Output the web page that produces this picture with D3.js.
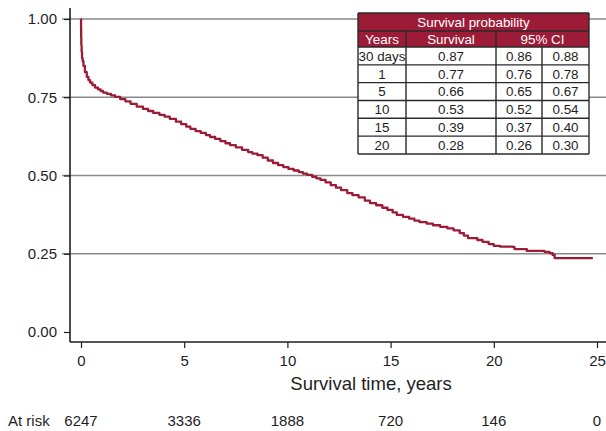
<!DOCTYPE html>
<html>
<head>
<meta charset="utf-8">
<script src="https://cdn.jsdelivr.net/npm/d3@7"></script>
<style>
  html, body { margin: 0; padding: 0; background: #fff; }
  svg { display: block; font-family: "Liberation Sans", Arial, Helvetica, sans-serif; }
</style>
</head>
<body>
<svg id="chart" width="606" height="431"></svg>
<script>
// Kaplan-Meier estimate: event times (years) and survival probability
const kmTime = [0, 0.003, 0.008, 0.015, 0.03, 0.05, 0.08, 0.12, 0.19, 0.28, 0.36, 0.44, 0.55, 0.68, 0.82, 0.95,
  1.07, 1.25, 1.45, 1.65, 1.9, 2.15, 2.4, 2.7, 3.0, 3.25, 3.5, 3.8, 4.05, 4.3, 4.6, 4.85, 5.1, 5.3, 5.55, 5.8,
  6.05, 6.25, 6.5, 6.75, 7.0, 7.22, 7.5, 7.8, 8.1, 8.3, 8.55, 8.8, 9.05, 9.3, 9.55, 9.8, 10.05, 10.3, 10.55,
  10.75, 10.95, 11.2, 11.4, 11.6, 11.85, 12.1, 12.35, 12.6, 12.9, 13.15, 13.45, 13.75, 14.0, 14.3, 14.6, 14.85,
  15.1, 15.3, 15.6, 15.9, 16.15, 16.4, 16.75, 17.05, 17.4, 17.75, 18.05, 18.35, 18.55, 18.75, 19.2, 19.45,
  19.75, 20.0, 20.3, 20.9, 21.0, 21.6, 22.45, 22.7, 22.85, 22.95, 24.8];
const kmSurv = [1.000, 0.970, 0.940, 0.915, 0.895, 0.875, 0.865, 0.850, 0.830, 0.815, 0.805, 0.797, 0.789, 0.781,
  0.775, 0.770, 0.765, 0.761, 0.756, 0.751, 0.744, 0.737, 0.729, 0.720, 0.713, 0.706, 0.700, 0.694, 0.688, 0.681,
  0.672, 0.664, 0.656, 0.649, 0.642, 0.636, 0.629, 0.623, 0.617, 0.610, 0.603, 0.597, 0.590, 0.582, 0.575, 0.570,
  0.565, 0.557, 0.548, 0.540, 0.533, 0.527, 0.521, 0.516, 0.511, 0.506, 0.502, 0.496, 0.491, 0.486, 0.478, 0.469,
  0.461, 0.453, 0.444, 0.437, 0.430, 0.420, 0.412, 0.405, 0.397, 0.390, 0.382, 0.374, 0.368, 0.362, 0.356, 0.351,
  0.346, 0.341, 0.336, 0.331, 0.325, 0.316, 0.308, 0.300, 0.294, 0.288, 0.281, 0.275, 0.273, 0.272, 0.265, 0.259,
  0.256, 0.252, 0.246, 0.236, 0.236];

// Axis ticks and the number-at-risk row
const xTicks = [0, 5, 10, 15, 20, 25];
const yTicks = [0, 0.25, 0.5, 0.75, 1];
const gridValues = [0.25, 0.5, 0.75, 1];
const atRisk = [6247, 3336, 1888, 720, 146, 0];

// Inset table of survival probabilities
const tableYears = ["30 days", "1", "5", "10", "15", "20"];
const tableSurvival = [0.87, 0.77, 0.66, 0.53, 0.39, 0.28];
const tableLower = [0.86, 0.76, 0.65, 0.52, 0.37, 0.26];
const tableUpper = [0.88, 0.78, 0.67, 0.54, 0.40, 0.30];

const RED = "#9c1c37";
const INK = "#1e1e1e";
const GRID = "#8a8a8a";
const FONT = 15;

const svg = d3.select("#chart");
const W = 606;

const x = d3.scaleLinear().domain([0, 25]).range([81, 597]);
const y = d3.scaleLinear().domain([0, 1]).range([332, 19]);

const axisX = 70;      // position of the vertical axis
const axisY = 342;     // position of the horizontal axis

// Horizontal gridlines
svg.append("g").selectAll("line").data(gridValues).join("line")
  .attr("x1", axisX - 8).attr("x2", W)
  .attr("y1", d => y(d)).attr("y2", d => y(d))
  .attr("stroke", GRID).attr("stroke-width", 1.3);

// Y axis
const gy = svg.append("g").attr("transform", `translate(${axisX},0)`)
  .call(d3.axisLeft(y).tickValues(yTicks).tickFormat(d3.format(".2f")).tickSize(6).tickPadding(7));
gy.select(".domain").remove();
gy.selectAll(".tick line").attr("stroke", INK).attr("stroke-width", 1.2);
gy.selectAll(".tick text").attr("font-size", FONT).attr("font-family", null).attr("fill", INK);

// X axis
const gx = svg.append("g").attr("transform", `translate(0,${axisY})`)
  .call(d3.axisBottom(x).tickValues(xTicks).tickFormat(d3.format("d")).tickSize(6).tickPadding(7));
gx.select(".domain").remove();
gx.selectAll(".tick line").attr("stroke", INK).attr("stroke-width", 1.2);
gx.selectAll(".tick text").attr("font-size", FONT).attr("font-family", null).attr("fill", INK);

// Axis lines
svg.append("line").attr("x1", axisX).attr("x2", axisX).attr("y1", y(1) - 11).attr("y2", axisY)
  .attr("stroke", INK).attr("stroke-width", 1.6);
svg.append("line").attr("x1", axisX).attr("x2", W).attr("y1", axisY).attr("y2", axisY)
  .attr("stroke", INK).attr("stroke-width", 1.6);

// Survival curve
const km = kmTime.map((t, i) => ({ t, s: kmSurv[i] }));
svg.append("path").datum(km)
  .attr("fill", "none").attr("stroke", RED).attr("stroke-width", 2.3)
  .attr("stroke-linejoin", "round")
  .attr("d", d3.line().x(d => x(d.t)).y(d => y(d.s)).curve(d3.curveStepAfter));

// Axis title
svg.append("text").attr("x", 371).attr("y", 390).attr("text-anchor", "middle")
  .attr("font-size", 18.5).attr("fill", INK).text("Survival time, years");

// Number at risk
svg.append("text").attr("x", 8).attr("y", 426).attr("font-size", FONT).attr("fill", INK).text("At risk");
svg.append("g").selectAll("text").data(atRisk).join("text")
  .attr("x", (d, i) => x(xTicks[i])).attr("y", 426).attr("text-anchor", "middle")
  .attr("font-size", FONT).attr("fill", INK).text(d => d);

// Inset table
const colEdges = [358, 406, 496, 542, 589];
const tblTop = 13, h1 = 18, h2 = 16, rowH = 17.83;
const bodyTop = tblTop + h1 + h2;
const tableBottom = bodyTop + rowH * tableYears.length;
const tbl = svg.append("g").attr("font-size", 13.4);
const fmt = d3.format(".2f");

// header fill
tbl.append("rect").attr("x", colEdges[0]).attr("y", tblTop)
  .attr("width", colEdges[4] - colEdges[0]).attr("height", h1 + h2).attr("fill", RED);
tbl.append("rect").attr("x", colEdges[0]).attr("y", bodyTop)
  .attr("width", colEdges[4] - colEdges[0]).attr("height", tableBottom - bodyTop).attr("fill", "#fff");

const cx = i => (colEdges[i] + colEdges[i + 1]) / 2;
const hdr = [
  { x: (colEdges[0] + colEdges[4]) / 2, y: tblTop + h1 / 2, t: "Survival probability" },
  { x: cx(0), y: tblTop + h1 + h2 / 2, t: "Years" },
  { x: cx(1), y: tblTop + h1 + h2 / 2, t: "Survival" },
  { x: (colEdges[2] + colEdges[4]) / 2, y: tblTop + h1 + h2 / 2, t: "95% CI" }
];
tbl.append("g").selectAll("text").data(hdr).join("text")
  .attr("x", d => d.x).attr("y", d => d.y).attr("dy", "0.36em")
  .attr("text-anchor", "middle").attr("fill", "#fff").text(d => d.t);

const cells = [];
tableYears.forEach((yr, r) => {
  const cy = bodyTop + rowH * r + rowH / 2;
  cells.push({ x: cx(0), y: cy, t: yr });
  cells.push({ x: cx(1), y: cy, t: fmt(tableSurvival[r]) });
  cells.push({ x: cx(2), y: cy, t: fmt(tableLower[r]) });
  cells.push({ x: cx(3), y: cy, t: fmt(tableUpper[r]) });
});
tbl.append("g").selectAll("text").data(cells).join("text")
  .attr("x", d => d.x).attr("y", d => d.y).attr("dy", "0.36em")
  .attr("text-anchor", "middle").attr("fill", INK).text(d => d.t);

// table rules
const rules = [];
const hy = [tblTop, tblTop + h1, bodyTop];
tableYears.forEach((_, r) => hy.push(bodyTop + rowH * (r + 1)));
hy.forEach(v => rules.push({ x1: colEdges[0], x2: colEdges[4], y1: v, y2: v }));
rules.push({ x1: colEdges[0], x2: colEdges[0], y1: tblTop, y2: tableBottom });
rules.push({ x1: colEdges[4], x2: colEdges[4], y1: tblTop, y2: tableBottom });
rules.push({ x1: colEdges[1], x2: colEdges[1], y1: tblTop + h1, y2: tableBottom });
rules.push({ x1: colEdges[2], x2: colEdges[2], y1: tblTop + h1, y2: tableBottom });
rules.push({ x1: colEdges[3], x2: colEdges[3], y1: bodyTop, y2: tableBottom });
tbl.append("g").selectAll("line").data(rules).join("line")
  .attr("x1", d => d.x1).attr("x2", d => d.x2).attr("y1", d => d.y1).attr("y2", d => d.y2)
  .attr("stroke", "#2a2a2a").attr("stroke-width", 1.4);
</script>
</body>
</html>
